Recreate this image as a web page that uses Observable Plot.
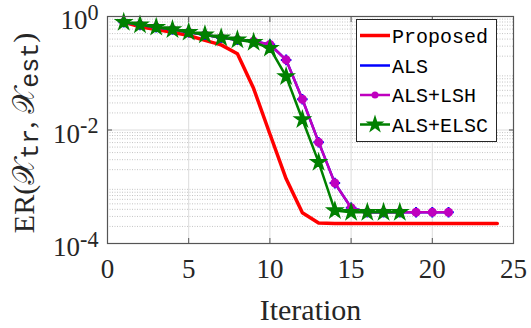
<!DOCTYPE html>
<html><head><meta charset="utf-8">
<script src="https://cdn.jsdelivr.net/npm/d3@7"></script>
<script src="https://cdn.jsdelivr.net/npm/@observablehq/plot@0.6"></script>
<style>
html,body{margin:0;padding:0;background:#fff;}
#chart{width:531px;height:328px;overflow:hidden;}
</style>
</head><body><div id="chart"></div>
<script>
// ---- data ----
const seriesNames = ["Proposed", "ALS", "ALS+LSH", "ALS+ELSC"];
const seriesColors = ["#ff0000", "#0000ff", "#bf00bf", "#008000"];

const iterProposed = [1,2,3,4,5,6,7,8,9,10,11,12,13,14,15,16,17,18,19,20,21,22,23,24];
const erProposed = [0.794,0.661,0.589,0.525,0.462,0.380,0.316,0.220,0.0537,0.00851,0.00138,3.47e-4,2.29e-4,2.24e-4,2.24e-4,2.24e-4,2.24e-4,2.24e-4,2.24e-4,2.24e-4,2.24e-4,2.24e-4,2.24e-4,2.24e-4];

const iterALS = [1,2,3,4,5,6,7,8,9,10,11,12,13,14,15,16,17,18,19,20,21];
const erALS = [0.794,0.713,0.649,0.590,0.530,0.476,0.422,0.389,0.367,0.321,0.172,0.0349,0.0061,0.00116,4.27e-4,3.55e-4,3.55e-4,3.55e-4,3.55e-4,3.55e-4,3.55e-4];

const iterLSH = [1,2,3,4,5,6,7,8,9,10,11,12,13,14,15,16,17,18,19,20,21];
const erLSH = [0.794,0.713,0.649,0.590,0.530,0.476,0.422,0.389,0.367,0.321,0.172,0.0349,0.0061,0.00116,4.27e-4,3.55e-4,3.55e-4,3.55e-4,3.55e-4,3.55e-4,3.55e-4];

const iterELSC = [1,2,3,4,5,6,7,8,9,10,11,12,13,14,15,16,17,18];
const erELSC = [0.794,0.713,0.649,0.590,0.530,0.476,0.422,0.389,0.352,0.277,0.0877,0.0153,0.00271,3.8e-4,3.55e-4,3.55e-4,3.55e-4,3.55e-4];

const xTicks = [0, 5, 10, 15, 20, 25];
const yTicks = [1, 1e-2, 1e-4];
const yTickExp = ["0", "-2", "-4"];
const yMinorMultipliers = [2,3,4,5,6,7,8,9];
const yDecades = [1e-4, 1e-3, 1e-2, 1e-1];
const xLabel = "Iteration";

// ---- build ----
const toRows = (xs, ys, name) => xs.map((x, i) => ({x, y: ys[i], name}));
const rowsProposed = toRows(iterProposed, erProposed, seriesNames[0]);
const rowsALS = toRows(iterALS, erALS, seriesNames[1]);
const rowsLSH = toRows(iterLSH, erLSH, seriesNames[2]);
const rowsELSC = toRows(iterELSC, erELSC, seriesNames[3]);
const yMinor = yDecades.flatMap(d => yMinorMultipliers.map(m => m * d));

const axisColor = "#262626";
const plot = Plot.plot({
  width: 531,
  height: 328,
  marginLeft: 107,
  marginRight: 18,
  marginTop: 16,
  marginBottom: 85,
  style: {fontFamily: "'Liberation Serif', 'Times New Roman', serif", fontSize: "27px", color: axisColor, background: "#fff"},
  x: {domain: [0, 25]},
  y: {type: "log", domain: [1e-4, 1]},
  marks: [
    Plot.gridY(yMinor, {stroke: "#c4c4c4", strokeOpacity: 1, strokeDasharray: "1,1.5"}),
    Plot.gridX(xTicks.slice(1, -1), {stroke: "#dcdcdc", strokeOpacity: 1}),
    Plot.gridY(yTicks.slice(1, -1), {stroke: "#dcdcdc", strokeOpacity: 1}),
    Plot.line(rowsProposed, {x: "x", y: "y", stroke: seriesColors[0], strokeWidth: 3.5}),
    Plot.line(rowsALS, {x: "x", y: "y", stroke: seriesColors[1], strokeWidth: 2.5}),
    Plot.dot(rowsALS, {x: "x", y: "y", symbol: "plus", stroke: seriesColors[1], strokeWidth: 2, r: 3.5}),
    Plot.line(rowsLSH, {x: "x", y: "y", stroke: seriesColors[2], strokeWidth: 2.5}),
    Plot.dot(rowsLSH, {x: "x", y: "y", symbol: "circle", fill: seriesColors[2], stroke: seriesColors[2], r: 3.8}),
    Plot.line(rowsELSC, {x: "x", y: "y", stroke: seriesColors[3], strokeWidth: 2.5}),
    Plot.dot(rowsELSC, {x: "x", y: "y", symbol: "star", fill: seriesColors[3], stroke: seriesColors[3], r: 4.8}),
    Plot.frame({stroke: "#555", strokeWidth: 1.2}),
    Plot.axisX(xTicks, {anchor: "bottom", tickSize: -5, tickPadding: 20, stroke: "#555", label: xLabel, labelAnchor: "center", labelArrow: "none", labelOffset: 76}),
    Plot.axisX(xTicks, {anchor: "top", tickSize: -5, stroke: "#555", tickFormat: () => "", label: null}),
    Plot.axisY(yTicks, {anchor: "left", tickSize: -5, tickPadding: 14, stroke: "#555", tickFormat: d => "10^" + yTickExp[yTicks.indexOf(d)], label: null}),
    Plot.axisY(yTicks, {anchor: "right", tickSize: -5, stroke: "#555", tickFormat: () => "", label: null})
  ]
});
document.getElementById("chart").appendChild(plot);

// ---- post-process: superscripts, labels, legend ----
const svg = d3.select(plot);
svg.selectAll('g[aria-label="y-axis tick label"] text').each(function() {
  const t = d3.select(this);
  const s = t.text();
  if (!s.includes("^")) return;
  const [base, exp] = s.split("^");
  t.text(null);
  t.append("tspan").attr("dy", 4).text(base);
  t.append("tspan").attr("dy", "-0.42em").attr("font-size", "0.82em").text(exp);
});
svg.selectAll('g[aria-label="x-axis label"] text').attr("font-size", 30);

const yl = svg.append("text")
  .attr("transform", "translate(34,133) rotate(-90)")
  .attr("text-anchor", "middle")
  .attr("font-family", "'Liberation Serif', serif")
  .attr("font-size", 30)
  .attr("fill", axisColor);
yl.append("tspan").text("ER(");
yl.append("tspan").text("𝒳");
yl.append("tspan").attr("font-family", "'Liberation Mono', monospace").attr("font-size", 25).attr("dy", 4).text("tr");
yl.append("tspan").attr("dy", -4).text(", ");
yl.append("tspan").text("𝒳");
yl.append("tspan").attr("font-family", "'Liberation Mono', monospace").attr("font-size", 25).attr("dy", 4).text("est");
yl.append("tspan").attr("dy", -4).text(")");

const lg = svg.append("g").attr("font-family", "'Liberation Mono', monospace").attr("font-size", 20).attr("fill", "#000").attr("text-anchor", "start");
lg.append("rect").attr("x", 356.5).attr("y", 19.5).attr("width", 140).attr("height", 122).attr("fill", "#fff").attr("stroke", "#262626").attr("stroke-width", 1);
const rowY = [35.5, 65.5, 95, 124.5];
seriesNames.forEach((name, i) => {
  const y = rowY[i];
  lg.append("line").attr("x1", 360).attr("x2", 390).attr("y1", y).attr("y2", y)
    .attr("stroke", seriesColors[i]).attr("stroke-width", i === 0 ? 3.5 : 2.5);
  if (i === 1) {
    lg.append("path").attr("d", d3.symbol(d3.symbolPlus, 50)()).attr("transform", `translate(375,${y})`).attr("fill", seriesColors[i]);
  } else if (i === 2) {
    lg.append("circle").attr("cx", 375).attr("cy", y).attr("r", 3.5).attr("fill", seriesColors[i]);
  } else if (i === 3) {
    lg.append("path").attr("d", d3.symbol(d3.symbolStar, 110)()).attr("transform", `translate(375,${y})`).attr("fill", seriesColors[i]);
  }
  lg.append("text").attr("x", 392).attr("y", y).attr("dy", "0.35em").text(name);
});
</script>
</body></html>
